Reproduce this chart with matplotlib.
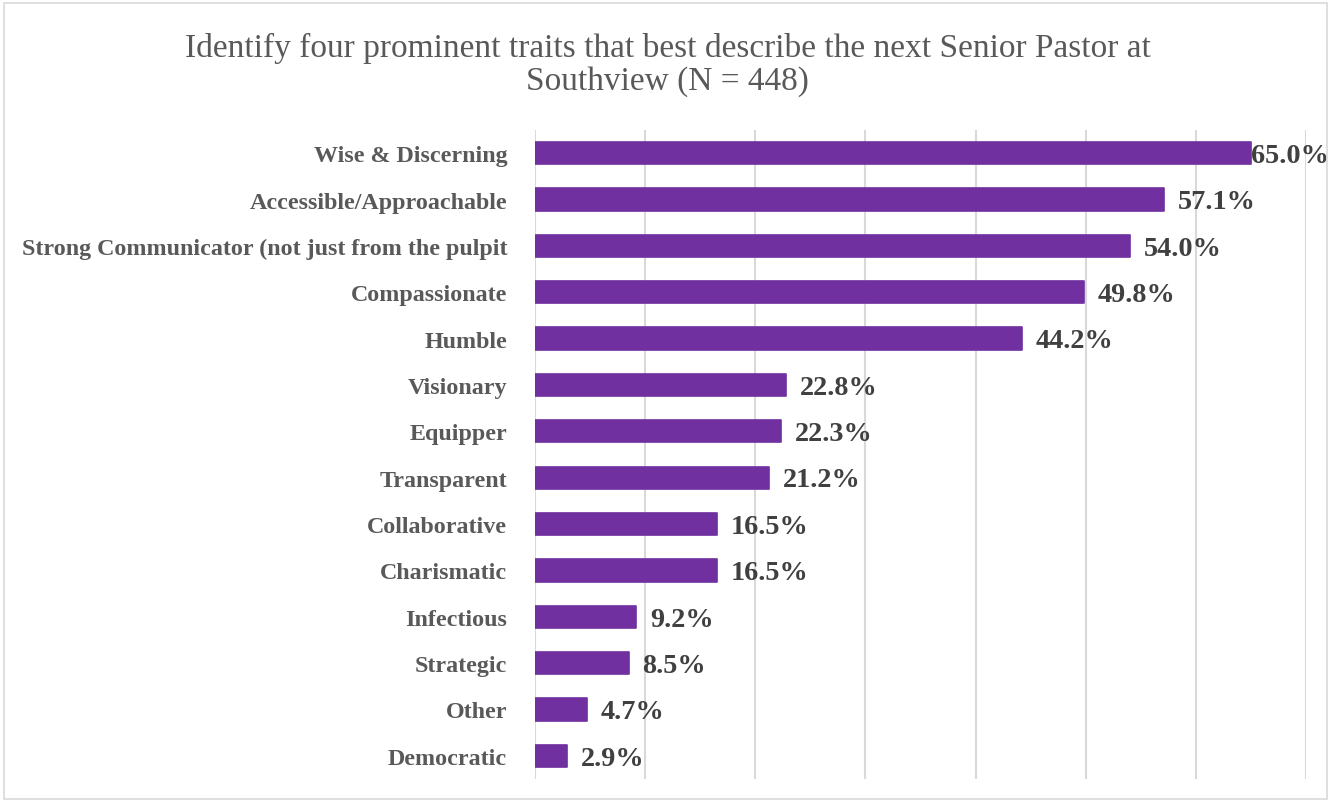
import matplotlib
matplotlib.use("Agg")
import matplotlib.pyplot as plt
from matplotlib.patches import Rectangle
from matplotlib.transforms import blended_transform_factory

traits = [
    "Wise & Discerning",
    "Accessible/Approachable",
    "Strong Communicator (not just from the pulpit",
    "Compassionate",
    "Humble",
    "Visionary",
    "Equipper",
    "Transparent",
    "Collaborative",
    "Charismatic",
    "Infectious",
    "Strategic",
    "Other",
    "Democratic",
]
percentages = [65.0, 57.1, 54.0, 49.8, 44.2, 22.8, 22.3, 21.2, 16.5, 16.5, 9.2, 8.5, 4.7, 2.9]
grid_ticks = [0, 10, 20, 30, 40, 50, 60, 70]

title_text = "Identify four prominent traits that best describe the next Senior Pastor at\nSouthview (N = 448)"

BAR = "#7030A0"
SERIF = ["Liberation Serif", "DejaVu Serif"]

fig = plt.figure(figsize=(13.35, 8.04), dpi=100)
fig.patch.set_facecolor("white")

# thin outer frame around the chart area
fig.add_artist(Rectangle((4 / 1335, 4 / 804), 1323 / 1335, 796 / 804,
                         transform=fig.transFigure, fill=False,
                         edgecolor="#D9D9D9", linewidth=1.2))

ax = fig.add_axes([535 / 1335, 24 / 804, 771 / 1335, 649 / 804])

y = list(range(len(traits)))
ax.barh(y, percentages, height=0.48, color=BAR, edgecolor=BAR,
        linewidth=1.2, joinstyle="round", zorder=3)

ax.set_xlim(0, 70)
ax.set_ylim(len(traits) - 0.5, -0.5)
ax.set_xticks(grid_ticks)
ax.set_xticklabels([])
ax.tick_params(axis="x", length=0)
ax.grid(axis="x", color="#D9D9D9", linewidth=1.5, zorder=0)
ax.set_axisbelow(True)

ax.set_yticks(y)
ax.set_yticklabels(traits, fontfamily=SERIF, fontweight="bold",
                   fontsize=17.3, color="#595959")
ax.tick_params(axis="y", length=0, pad=20)

for s in ax.spines.values():
    s.set_visible(False)

# value labels at the bar ends; the longest one is kept inside the frame
edge = blended_transform_factory(fig.transFigure, ax.transData)
max_v = max(percentages)
for yi, v in zip(y, percentages):
    label = f"{v:.1f}%"
    style = dict(va="center", fontfamily=SERIF, fontweight="bold",
                 fontsize=20.3, color="#404040")
    if v == max_v:
        ax.text(1329 / 1335, yi + 0.05, label, transform=edge,
                ha="right", **style)
    else:
        ax.annotate(label, xy=(v, yi + 0.05), xytext=(10, 0),
                    textcoords="offset points", ha="left", **style)

fig.text(0.5, 1 - 65 / 804, title_text, ha="center", va="center",
         fontfamily=SERIF, fontsize=24, color="#595959", linespacing=1.12)

fig.savefig("out.png", dpi=100, facecolor="white")
